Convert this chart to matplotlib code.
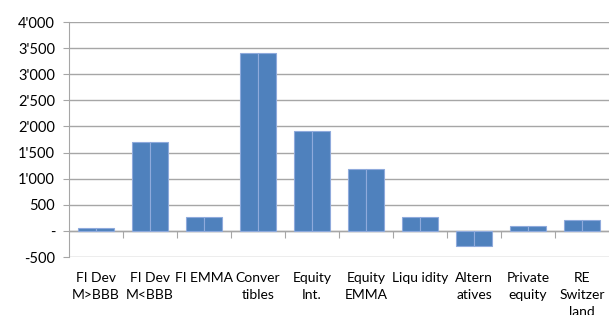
import numpy as np
import matplotlib.pyplot as plt
from matplotlib.ticker import FuncFormatter

# data
categories = ["FI Dev\nM>BBB", "FI Dev\nM<BBB", "FI EMMA", "Conver\ntibles", "Equity\nInt.",
              "Equity\nEMMA", "Liqu idity", "Altern\natives", "Private\nequity", "RE\nSwitzer\nland"]
values = [55, 1700, 265, 3400, 1910, 1185, 265, -285, 100, 215]

plt.rcParams['font.family'] = ['Lato', 'DejaVu Sans']

fig = plt.figure(figsize=(6.09, 3.15), dpi=100)
ax = fig.add_axes([0.1133, 0.184, 0.8867, 0.746])

x = np.arange(len(categories))
w = 0.335
# each bar is drawn as two equal halves, as in the original
ax.bar(x - w / 2, values, width=w, color='#4F81BD', edgecolor='#8FAADC', lw=0.8, zorder=3)
ax.bar(x + w / 2, values, width=w, color='#4F81BD', edgecolor='#8FAADC', lw=0.8, zorder=3)

ax.set_xlim(-0.5, len(categories) - 0.5)
ax.set_ylim(-500, 4000)
ax.set_yticks(np.arange(-500, 4001, 500))


def fmt(v, pos):
    if v == 0:
        return '-'
    s = f"{int(abs(v)):,}".replace(',', "'")
    return ('-' if v < 0 else '') + s


ax.yaxis.set_major_formatter(FuncFormatter(fmt))
ax.grid(axis='y', color='#a6a6a6', lw=1, zorder=0)
ax.tick_params(axis='y', length=4, color='#a6a6a6', labelsize=10.5, pad=6)

for s in ['top', 'right', 'bottom']:
    ax.spines[s].set_visible(False)
ax.spines['left'].set_color('#a6a6a6')

ax.set_xticks(x)
ax.set_xticklabels(categories, fontsize=10, linespacing=1.5, va='top')
ax.tick_params(axis='x', length=0, pad=11)

# category axis crossing at zero with boundary ticks
ax.axhline(0, color='#a6a6a6', lw=1, zorder=2)
sec = ax.secondary_xaxis(500 / 4500)
sec.set_xticks(np.arange(0.5, len(categories) - 0.5, 1))
sec.set_xticklabels([])
sec.spines['bottom'].set_visible(False)
sec.tick_params(length=5, color='#a6a6a6')

fig.savefig('out.png', dpi=100)
